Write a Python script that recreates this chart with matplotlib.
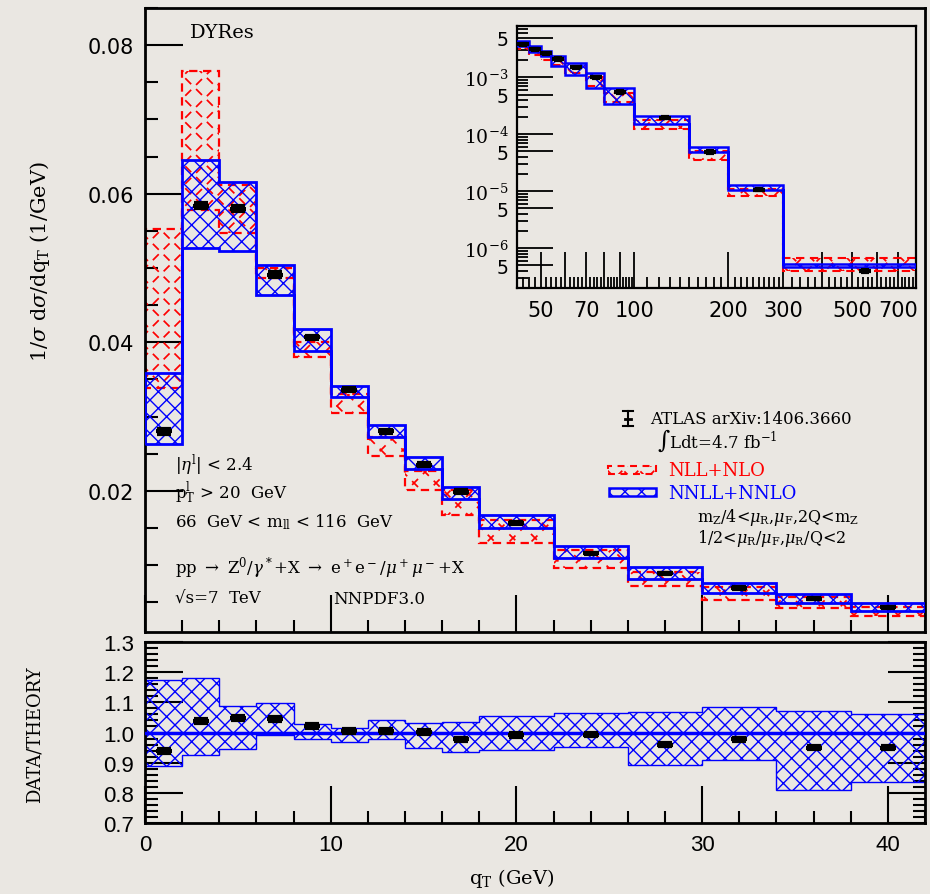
import matplotlib
matplotlib.use("Agg")
import matplotlib.pyplot as plt
import numpy as np
from matplotlib import font_manager
from matplotlib.collections import LineCollection
from matplotlib.transforms import IdentityTransform
from matplotlib.patches import Rectangle
from matplotlib.ticker import MultipleLocator, FixedLocator, FixedFormatter, NullFormatter

plt.rcParams["lines.scale_dashes"] = False
plt.rcParams["hatch.linewidth"] = 1.0
plt.rcParams["mathtext.fontset"] = "dejavuserif"

installed = {f.name for f in font_manager.fontManager.ttflist}
NARROW = "Liberation Sans Narrow" if "Liberation Sans Narrow" in installed else "Liberation Sans"
SERIF = "DejaVu Serif"
SANS = "DejaVu Sans"

BG = "#eae7e2"
BLUE = "#0000ff"
RED = "#ff0000"

# ---- q_T spectrum, 0-42 GeV ----
qt_edges = [0, 2, 4, 6, 8, 10, 12, 14, 16, 18, 22, 26, 30, 34, 38, 42]
atlas_xsec = [0.0280, 0.0584, 0.0580, 0.0491, 0.0407, 0.0336, 0.0280, 0.0235,
              0.0199, 0.0157, 0.0116, 0.0089, 0.0069, 0.0055, 0.0043]
atlas_err = [0.0003, 0.0003, 0.0003, 0.0003, 0.0002, 0.0002, 0.0002, 0.0002,
             0.0002, 0.0001, 0.0001, 0.0001, 0.0001, 0.0001, 0.0001]
nnll_hi = [0.0359, 0.0646, 0.0616, 0.0504, 0.0418, 0.0341, 0.0289, 0.0246,
           0.0205, 0.0168, 0.01257, 0.0097, 0.0076, 0.0061, 0.0049]
nnll_lo = [0.02635, 0.0527, 0.0523, 0.0464, 0.0388, 0.0327, 0.0272, 0.0230,
           0.0189, 0.0150, 0.01095, 0.0082, 0.0062, 0.0049, 0.0038]
nll_hi = [0.0553, 0.0765, 0.0612, 0.0500, 0.0401, 0.0331, 0.0272, 0.0227,
          0.0201, 0.0161, 0.0120, 0.0091, 0.0070, 0.0057, 0.0043]
nll_lo = [0.0339, 0.0578, 0.0547, 0.0486, 0.0380, 0.0305, 0.0247, 0.0201,
          0.0168, 0.0130, 0.0096, 0.0072, 0.0053, 0.0042, 0.0032]

# ---- data / NNLL+NNLO ratio ----
ratio_data = [0.939, 1.039, 1.049, 1.044, 1.022, 1.004, 1.006, 1.001,
              0.977, 0.991, 0.993, 0.960, 0.977, 0.950, 0.950]
ratio_err = [0.006] * 15
ratio_hi = [1.174, 1.182, 1.088, 1.097, 1.027, 1.016, 1.041, 1.032,
            1.036, 1.054, 1.063, 1.067, 1.086, 1.071, 1.061]
ratio_lo = [0.889, 0.927, 0.944, 0.991, 0.977, 0.967, 0.979, 0.947,
            0.936, 0.941, 0.952, 0.891, 0.908, 0.808, 0.836]

# ---- high q_T tail (log inset) ----
tail_edges = [42, 46, 50, 54, 60, 70, 80, 100, 150, 200, 300, 800]
tail_data = [3.8e-3, 3.1e-3, 2.64e-3, 2.09e-3, 1.50e-3, 1.0e-3, 5.5e-4,
             1.96e-4, 4.9e-5, 1.07e-5, 4.0e-7]
tail_nnll_hi = [4.3e-3, 3.55e-3, 2.9e-3, 2.37e-3, 1.76e-3, 1.18e-3, 6.4e-4,
                2.13e-4, 5.9e-5, 1.3e-5, 5.3e-7]
tail_nnll_lo = [3.5e-3, 2.82e-3, 2.4e-3, 1.58e-3, 1.1e-3, 6.6e-4, 3.45e-4,
                1.5e-4, 4.8e-5, 1.04e-5, 4.6e-7]
tail_nll_hi = [4.0e-3, 3.3e-3, 2.7e-3, 2.1e-3, 1.6e-3, 1.0e-3, 5.4e-4,
               1.78e-4, 5.1e-5, 1.1e-5, 6.7e-7]
tail_nll_lo = [3.2e-3, 2.5e-3, 2.0e-3, 1.64e-3, 1.2e-3, 7.2e-4, 3.7e-4,
               1.22e-4, 3.55e-5, 8.4e-6, 4.0e-7]

W, H = 930, 895
fig = plt.figure(figsize=(W / 100, H / 100), dpi=100, facecolor=BG)


def box(l, t, r, b):
    return [l / W, 1 - b / H, (r - l) / W, (b - t) / H]


def fx(px):
    return px / W


def fy(py):
    return 1 - py / H


def dashed_cross(axis, clip_patch, spacing=22.0, color=RED, lw=1.25):
    """Broken diagonal cross-hatching clipped to a patch."""
    x0, y0, x1, y1 = axis.bbox.extents
    w, h = x1 - x0, y1 - y0
    segs = []
    for c in np.arange(-w, h + spacing, spacing):
        segs.append([(x0, y0 + c), (x1, y0 + c + w)])
    for c in np.arange(0, w + h + spacing, spacing):
        segs.append([(x0, y0 + c), (x1, y0 + c - w)])
    lc = LineCollection(segs, colors=color, linewidths=lw,
                        linestyles=[(3, (6.0, 5.0))], transform=IdentityTransform(),
                        zorder=clip_patch.get_zorder())
    axis.add_collection(lc, autolim=False)
    lc.set_clip_path(clip_patch)
    return lc


def centers(edges):
    e = np.asarray(edges, float)
    return 0.5 * (e[:-1] + e[1:])


def style_spines(axis, lw=2.0):
    for s in axis.spines.values():
        s.set_linewidth(lw)
        s.set_color("black")


# ================= main panel =================
ax = fig.add_axes(box(145, 9, 925, 633), facecolor=BG)
ax.set_xlim(0, 42)
ax.set_ylim(0.001, 0.085)

red_main = ax.stairs(nll_hi, qt_edges, baseline=nll_lo, fill=True, facecolor="none",
                     edgecolor=RED, lw=1.6, linestyle=(0, (6, 4)), zorder=2)
dashed_cross(ax, red_main)
ax.stairs(nnll_hi, qt_edges, baseline=nnll_lo, fill=True, facecolor="none",
          edgecolor=BLUE, hatch="xx", lw=2.0, zorder=3)
ax.errorbar(centers(qt_edges), atlas_xsec, yerr=atlas_err, fmt="_", color="black",
            ms=11, mew=3, capsize=5, capthick=2, elinewidth=1.5, zorder=5)

ax.set_yticks([0.02, 0.04, 0.06, 0.08])
ax.set_yticklabels(["0.02", "0.04", "0.06", "0.08"])
ax.yaxis.set_minor_locator(MultipleLocator(0.005))
ax.xaxis.set_major_locator(MultipleLocator(10))
ax.xaxis.set_minor_locator(MultipleLocator(2))
ax.tick_params(which="both", direction="in", left=True, right=False, top=False,
               bottom=True, labelbottom=False, width=1.5)
ax.tick_params(which="major", length=27, labelsize=15, pad=8)
ax.tick_params(which="minor", length=9)
for lab in ax.get_yticklabels():
    lab.set_family(SANS)
style_spines(ax)

# legend and labels inside the main panel
fig.text(fx(190), fy(33), "DYRes", family=SERIF, size=14, va="center")
ann = dict(family=SERIF, size=12, va="center")
fig.text(fx(175), fy(465), r"$|\eta^{\rm l}|$ < 2.4", **ann)
fig.text(fx(175), fy(493), r"p$_{\rm T}^{\rm l}$ > 20  GeV", **ann)
fig.text(fx(175), fy(522), r"66  GeV < m$_{\rm ll}$ < 116  GeV", **ann)
fig.text(fx(175), fy(568),
         r"pp $\rightarrow$ Z$^0$/$\gamma^*$+X $\rightarrow$ e$^+$e$^-$/$\mu^+\mu^-$+X", **ann)
fig.text(fx(175), fy(599), "\u221as=7  TeV", **ann)
fig.text(fx(333), fy(599), "NNPDF3.0", **ann)

fig.text(fx(650), fy(420), "ATLAS arXiv:1406.3660", family=SERIF, size=12, va="center")
fig.text(fx(657), fy(441), r"$\int$Ldt=4.7 fb$^{-1}$", family=SERIF, size=12, va="center")
fig.text(fx(668), fy(471), "NLL+NLO", family=SERIF, size=13, va="center", color=RED)
fig.text(fx(668), fy(494), "NNLL+NNLO", family=SERIF, size=13, va="center", color=BLUE)
fig.text(fx(697), fy(518), r"m$_{\rm Z}$/4<$\mu_{\rm R}$,$\mu_{\rm F}$,2Q<m$_{\rm Z}$",
         family=SERIF, size=11.5, va="center")
fig.text(fx(697), fy(539), r"1/2<$\mu_{\rm R}$/$\mu_{\rm F}$,$\mu_{\rm R}$/Q<2",
         family=SERIF, size=11.5, va="center")

# data symbol in legend
sx = fx(628)
fig.add_artist(plt.Line2D([sx, sx], [fy(412), fy(427)], color="black", lw=1.5,
                          transform=fig.transFigure))
for yy in (412, 427):
    fig.add_artist(plt.Line2D([fx(623), fx(633)], [fy(yy), fy(yy)], color="black",
                              lw=1.5, transform=fig.transFigure))
fig.add_artist(plt.Line2D([fx(625), fx(631)], [fy(419.5), fy(419.5)], color="black",
                          lw=2, transform=fig.transFigure))


def ax_frac(px, py):
    x0, y0, x1, y1 = 145, 633, 925, 9
    return (px - x0) / (x1 - x0), (y0 - py) / (y0 - y1)


# legend boxes
lx, ly = ax_frac(608, 475)
lx2, ly2 = ax_frac(656, 467)
red_key = Rectangle((lx, ly), lx2 - lx, ly2 - ly, transform=ax.transAxes,
                    facecolor="none", edgecolor=RED, lw=1.5, linestyle=(0, (5, 4)), zorder=6)
ax.add_patch(red_key)
dashed_cross(ax, red_key, spacing=16)
bx, by = ax_frac(609, 497)
bx2, by2 = ax_frac(656, 489)
ax.add_patch(Rectangle((bx, by), bx2 - bx, by2 - by, transform=ax.transAxes,
                       facecolor="none", edgecolor=BLUE, hatch="xx", lw=1.8, zorder=6))

# ================= ratio panel =================
axr = fig.add_axes(box(145, 643, 925, 824), facecolor=BG)
axr.set_xlim(0, 42)
axr.set_ylim(0.7, 1.3)
axr.stairs(ratio_hi, qt_edges, baseline=ratio_lo, fill=True, facecolor="none",
           edgecolor=BLUE, hatch="xx", lw=1.0, zorder=2)
axr.axhline(1.0, color=BLUE, lw=2.5, zorder=3)
axr.errorbar(centers(qt_edges), ratio_data, yerr=ratio_err, fmt="_", color="black",
             ms=11, mew=3, capsize=5, capthick=2, elinewidth=1.5, zorder=5)
yt = [0.7, 0.8, 0.9, 1.0, 1.1, 1.2, 1.3]
axr.set_yticks(yt)
axr.set_yticklabels([f"{v:.1f}" for v in yt])
axr.yaxis.set_minor_locator(MultipleLocator(0.02))
axr.xaxis.set_major_locator(MultipleLocator(10))
axr.xaxis.set_minor_locator(MultipleLocator(2))
axr.tick_params(which="both", direction="in", left=True, right=True, top=False,
                bottom=True, width=1.5)
axr.tick_params(which="major", length=27, labelsize=16, pad=8)
axr.tick_params(which="minor", length=9)
for lab in axr.get_yticklabels() + axr.get_xticklabels():
    lab.set_family(NARROW)
style_spines(axr)
fig.text(fx(35), fy(735), "DATA/THEORY", family=SERIF, size=13, rotation=90,
         ha="center", va="center")
fig.text(fx(512), fy(879), r"q$_{\rm T}$ (GeV)", family=SERIF, size=14,
         ha="center", va="center")
fig.text(fx(40), fy(262), r"1/$\sigma$ d$\sigma$/dq$_{\rm T}$ (1/GeV)", family=SERIF,
         size=15, rotation=90, ha="center", va="center")

# ================= log inset =================
axi = fig.add_axes(box(517, 27, 916, 289), facecolor=BG)
axi.set_xscale("log")
axi.set_yscale("log")
axi.set_xlim(42, 800)
axi.set_ylim(2e-7, 8e-3)
red_tail = axi.stairs(tail_nll_hi, tail_edges, baseline=tail_nll_lo, fill=True,
                      facecolor="none", edgecolor=RED, lw=1.5, linestyle=(0, (6, 4)),
                      zorder=2)
dashed_cross(axi, red_tail, spacing=18)
axi.stairs(tail_nnll_hi, tail_edges, baseline=tail_nnll_lo, fill=True, facecolor="none",
           edgecolor=BLUE, hatch="xx", lw=1.8, zorder=3)
axi.errorbar(centers(tail_edges)[:-1].tolist() + [550], tail_data,
             yerr=np.array(tail_data) * 0.03, fmt="_", color="black", ms=9, mew=3,
             capsize=3, capthick=1.5, elinewidth=1.2, zorder=5)

xmaj = [50, 60, 70, 80, 90, 100, 200, 300, 400, 500, 600, 700, 800]
xlab = {50: "50", 70: "70", 100: "100", 200: "200", 300: "300", 500: "500", 700: "700"}
axi.xaxis.set_major_locator(FixedLocator(xmaj))
axi.xaxis.set_major_formatter(FixedFormatter([xlab.get(v, "") for v in xmaj]))
xmin_ticks = ([v for v in range(44, 100, 2) if v % 10] +
              [v for v in range(110, 300, 10) if v % 100] +
              [v for v in range(320, 800, 20) if v % 100])
axi.xaxis.set_minor_locator(FixedLocator(xmin_ticks))
axi.xaxis.set_minor_formatter(NullFormatter())

ymaj = [5e-7, 1e-6, 5e-6, 1e-5, 5e-5, 1e-4, 5e-4, 1e-3, 5e-3]
ylab = ["5", r"$10^{-6}$", "5", r"$10^{-5}$", "5", r"$10^{-4}$", "5", r"$10^{-3}$", "5"]
axi.yaxis.set_major_locator(FixedLocator(ymaj))
axi.yaxis.set_major_formatter(FixedFormatter(ylab))
ymin_ticks = [m * 10.0 ** e for e in range(-7, -2) for m in (2, 3, 4, 6, 7, 8, 9)
              if 2e-7 <= m * 10.0 ** e <= 8e-3]
axi.yaxis.set_minor_locator(FixedLocator(ymin_ticks))
axi.yaxis.set_minor_formatter(NullFormatter())
axi.tick_params(which="both", direction="in", left=True, right=False, top=False,
                bottom=True, width=1.3)
axi.tick_params(axis="x", which="major", length=26, labelsize=15, pad=9)
axi.tick_params(axis="y", which="major", length=26, labelsize=13.5, pad=6)
axi.tick_params(which="minor", length=8)
for lab in axi.get_xticklabels() + axi.get_yticklabels():
    lab.set_family(SANS)
style_spines(axi, 1.6)

fig.savefig("out.png", dpi=100, facecolor=BG)
